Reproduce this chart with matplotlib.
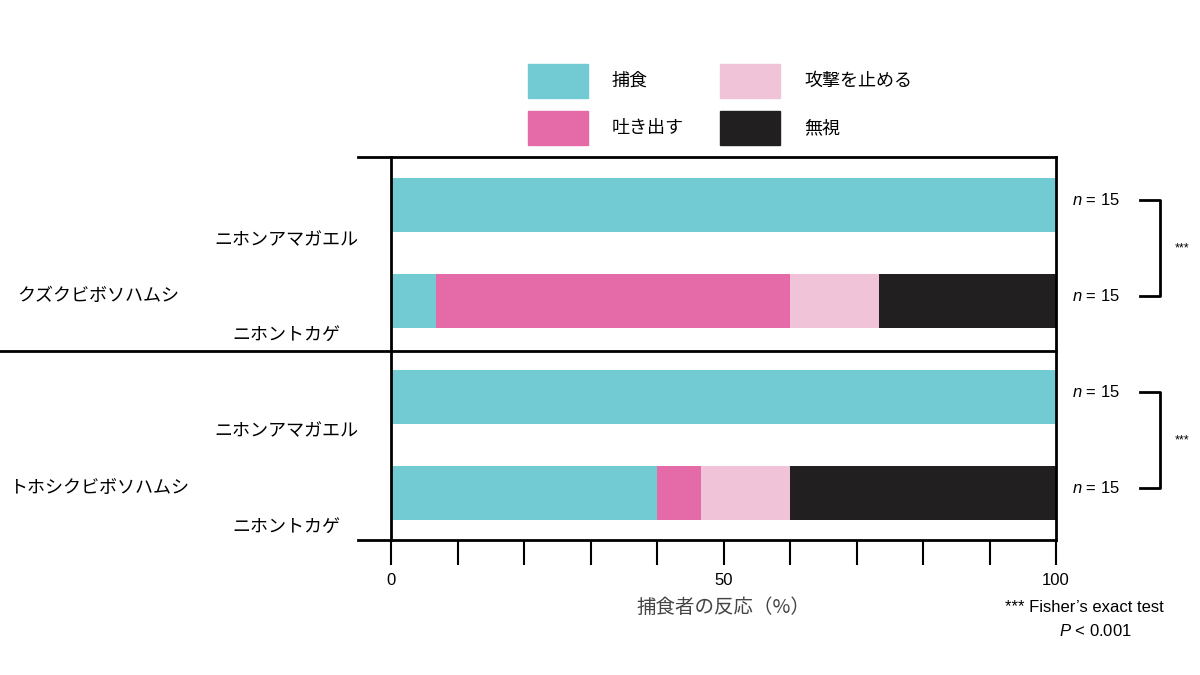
import matplotlib
matplotlib.use("Agg")
import matplotlib.pyplot as plt
import matplotlib.patches as mpatches
import numpy as np

plt.rcParams['font.family'] = ['Noto Sans CJK JP', 'DejaVu Sans']
plt.rcParams['mathtext.fontset'] = 'custom'
plt.rcParams['mathtext.it'] = 'Liberation Sans:italic'
plt.rcParams['mathtext.rm'] = 'Liberation Sans'
LAT = 'Liberation Sans'

categories = ['捕食', '吐き出す', '攻撃を止める', '無視']
colors = ['#72cbd2', '#e46aa8', '#f0c3d9', '#221f20']
beetles = ['クズクビボソハムシ', 'トホシクビボソハムシ']
predators = ['ニホンアマガエル', 'ニホントカゲ', 'ニホンアマガエル', 'ニホントカゲ']
# counts per predator row (n = 15 each)
counts = [
    [15, 0, 0, 0],
    [1, 8, 2, 4],
    [15, 0, 0, 0],
    [6, 1, 2, 6],
]
n_values = [15, 15, 15, 15]

fig = plt.figure(figsize=(12, 6.75), dpi=100)
ax = fig.add_axes([0.326, 0.2, 0.554, 0.567])

ypos = np.arange(len(counts))
pct = np.array(counts, dtype=float) / np.array(n_values)[:, None] * 100
left = np.zeros(len(counts))
for j, cat in enumerate(categories):
    ax.barh(ypos, pct[:, j], left=left, height=0.56, color=colors[j], label=cat)
    left += pct[:, j]

ax.set_xlim(0, 100)
ax.set_ylim(3.49, -0.5)
ax.set_yticks([])
ax.set_xticks([0, 50, 100])
ax.set_xticks(np.arange(0, 101, 10), minor=True)
ax.tick_params(axis='x', which='both', length=18, width=1.5, direction='out', labelsize=12, pad=6)
for lab in ax.get_xticklabels():
    lab.set_family(LAT)
for s in ax.spines.values():
    s.set_linewidth(2)
ax.set_xlabel('捕食者の反応（%）', fontsize=14, color='#444444', labelpad=6)

# separator / frame extensions
tr = ax.get_yaxis_transform()
ax.plot([-0.59, 1], [1.52, 1.52], transform=tr, color='black', lw=2, clip_on=False)
ax.plot([-0.05, 0], [-0.5, -0.5], transform=tr, color='black', lw=2, clip_on=False)
ax.plot([-0.05, 0], [3.49, 3.49], transform=tr, color='black', lw=2, clip_on=False)

# labels
for i, p in enumerate(predators):
    ax.text(-0.158, ypos[i] + 0.36, p, transform=tr, ha='center', va='center', fontsize=13)
for k, b in enumerate(beetles):
    ax.text(-0.44, 2 * k + 0.95, b, transform=tr, ha='center', va='center', fontsize=13)

# n labels and brackets
for i, n in enumerate(n_values):
    ax.text(1.06, ypos[i] - 0.05, f'$n$ = {n}', transform=tr, ha='center', va='center',
            fontsize=12, family=LAT)
for k in range(2):
    y0, y1 = 2 * k - 0.05, 2 * k + 0.95
    ax.plot([1.126, 1.157, 1.157, 1.126], [y0, y0, y1, y1], transform=tr,
            color='black', lw=2, clip_on=False)
    ax.text(1.19, (y0 + y1) / 2, '***', transform=tr, ha='center', va='center',
            fontsize=9, family=LAT)

fig.text(0.97, 0.1, "*** Fisher’s exact test", ha='right', va='center', fontsize=12, family=LAT)
fig.text(0.913, 0.065, '$P$ < 0.001', ha='center', va='center', fontsize=12, family=LAT)

# legend
legend_pos = [(0.44, 0.88), (0.44, 0.81), (0.60, 0.88), (0.60, 0.81)]
for (x, y), cat, c in zip(legend_pos, categories, colors):
    fig.patches.append(mpatches.Rectangle((x, y - 0.025), 0.05, 0.05, color=c,
                                          transform=fig.transFigure))
    fig.text(x + 0.07, y, cat, ha='left', va='center', fontsize=13)

fig.savefig('out.png', dpi=100)
